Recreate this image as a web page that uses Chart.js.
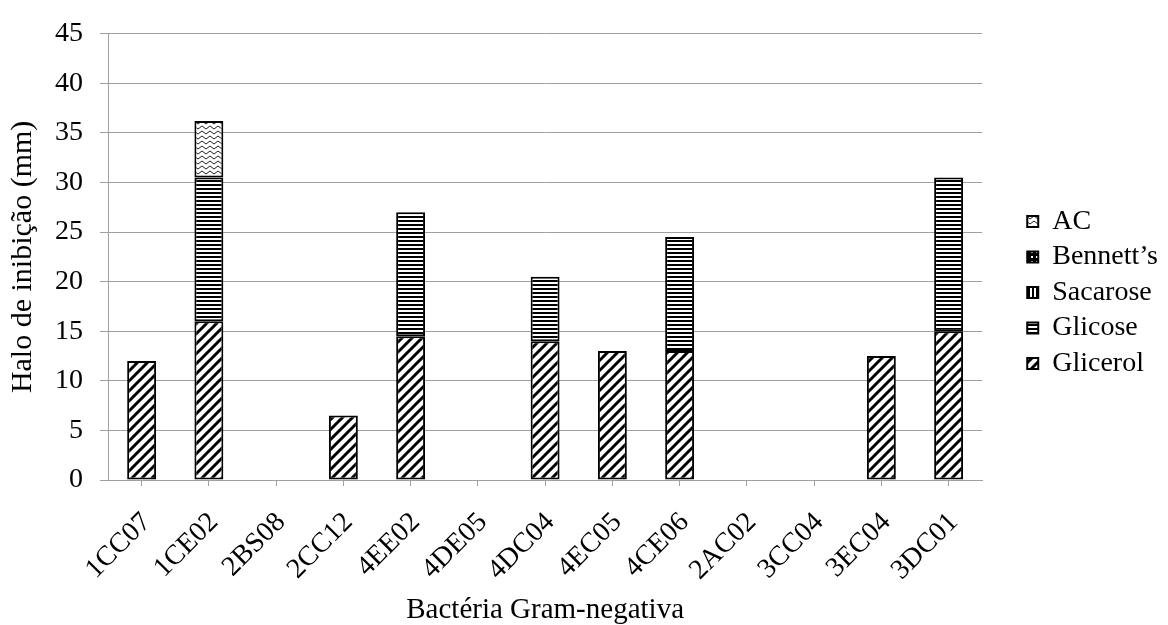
<!DOCTYPE html>
<html>
<head>
<meta charset="utf-8">
<script src="https://cdn.jsdelivr.net/npm/chart.js@4/dist/chart.umd.min.js"></script>
<style>
  html, body { margin: 0; padding: 0; background: #fff; }
  #wrap { width: 1168px; height: 625px; }
</style>
</head>
<body>
<div id="wrap"><canvas id="chart" width="1168" height="625"></canvas></div>
<script>
const categories = ['1CC07', '1CE02', '2BS08', '2CC12', '4EE02', '4DE05', '4DC04', '4EC05', '4CE06', '2AC02', '3CC04', '3EC04', '3DC01'];
const glicerol = [12, 16, null, 6.5, 14.5, null, 14, 13, 13, null, null, 12.5, 15];
const glicose = [null, 14.5, null, null, 12.5, null, 6.5, null, 11.5, null, null, null, 15.5];
const sacarose = [null, null, null, null, null, null, null, null, null, null, null, null, null];
const bennetts = [null, null, null, null, null, null, null, null, null, null, null, null, null];
const ac = [null, 5.7, null, null, null, null, null, null, null, null, null, null, null];
const yTicks = [0, 5, 10, 15, 20, 25, 30, 35, 40, 45];

const serif = 'Liberation Serif, Times New Roman, serif';

// little tiles for the hatch fills
const makePattern = (w, h, draw) => {
    const c = document.createElement('canvas');
    c.width = w;
    c.height = h;
    const g = c.getContext('2d');
    g.fillStyle = '#fff';
    g.fillRect(0, 0, w, h);
    g.fillStyle = '#000';
    g.strokeStyle = '#000';
    draw(g);
    return g.createPattern(c, 'repeat');
};

const diagonal = makePattern(10, 10, g => {
    g.lineWidth = 3;
    g.beginPath();
    g.moveTo(-5, 5); g.lineTo(5, -5);
    g.moveTo(0, 10); g.lineTo(10, 0);
    g.moveTo(5, 15); g.lineTo(15, 5);
    g.stroke();
});
const horizontal = makePattern(4, 4, g => g.fillRect(0, 0, 4, 2));
const vertical = makePattern(4, 4, g => g.fillRect(0, 0, 2, 4));
const checks = makePattern(5, 5, g => {
    g.fillRect(0, 0, 5, 5);
    g.fillStyle = '#fff';
    g.fillRect(1, 1, 2, 2);
});
const waves = makePattern(8, 5, g => {
    g.lineWidth = 1;
    g.strokeStyle = '#222';
    g.beginPath();
    g.moveTo(0, 2.5);
    g.quadraticCurveTo(2, -0.5, 4, 2.5);
    g.quadraticCurveTo(6, 5.5, 8, 2.5);
    g.stroke();
});

const barStyle = {
    borderColor: '#000',
    borderWidth: 2,
    borderSkipped: false,
    barPercentage: 0.43,
    categoryPercentage: 1
};

new Chart(document.getElementById('chart').getContext('2d'), {
    type: 'bar',
    data: {
        labels: categories,
        datasets: [
            { label: 'Glicerol', data: glicerol, backgroundColor: diagonal, ...barStyle },
            { label: 'Glicose', data: glicose, backgroundColor: horizontal, ...barStyle },
            { label: 'Sacarose', data: sacarose, backgroundColor: vertical, ...barStyle },
            { label: 'Bennett\u2019s', data: bennetts, backgroundColor: checks, ...barStyle },
            { label: 'AC', data: ac, backgroundColor: waves, ...barStyle }
        ]
    },
    options: {
        responsive: false,
        animation: false,
        layout: { padding: { top: 24, right: 0, bottom: 0, left: 0 } },
        plugins: {
            tooltip: { enabled: false },
            legend: {
                position: 'right',
                align: 'start',
                reverse: true,
                title: { display: true, text: '', font: { size: 10, lineHeight: 1 }, padding: { top: 166, bottom: 0 } },
                labels: {
                    boxWidth: 11,
                    boxHeight: 11,
                    padding: 7.5,
                    color: '#000',
                    font: { family: serif, size: 28 }
                }
            }
        },
        scales: {
            x: {
                stacked: true,
                grid: { drawOnChartArea: false, offset: false, tickLength: 6, color: '#a0a0a0' },
                border: { color: '#a0a0a0' },
                ticks: {
                    autoSkip: false,
                    maxRotation: 45,
                    minRotation: 45,
                    padding: 20,
                    labelOffset: 5,
                    color: '#000',
                    font: { family: serif, size: 28 }
                },
                title: {
                    display: true,
                    text: 'Bactéria Gram-negativa',
                    color: '#000',
                    font: { family: serif, size: 29, lineHeight: 1 },
                    padding: { top: 0, bottom: 0 }
                },
                afterFit: s => { s.height = 145; }
            },
            y: {
                stacked: true,
                min: 0,
                max: 45,
                afterBuildTicks: s => { s.ticks = yTicks.map(v => ({ value: v })); },
                grid: { color: '#a0a0a0', tickLength: 8 },
                border: { color: '#a0a0a0' },
                ticks: {
                    padding: 17,
                    color: '#000',
                    font: { family: serif, size: 28 }
                },
                title: {
                    display: true,
                    text: 'Halo de inibição (mm)',
                    color: '#000',
                    font: { family: serif, size: 30, lineHeight: 1 },
                    padding: { top: 8, bottom: 0 }
                },
                afterFit: s => { s.width = 108; }
            },
            // empty box that keeps the gap between the plot and the legend
            gap: {
                type: 'linear',
                position: 'right',
                display: true,
                grid: { display: false },
                border: { display: false },
                ticks: { display: false },
                afterFit: s => { s.width = 37.5; }
            }
        }
    }
});
</script>
</body>
</html>
